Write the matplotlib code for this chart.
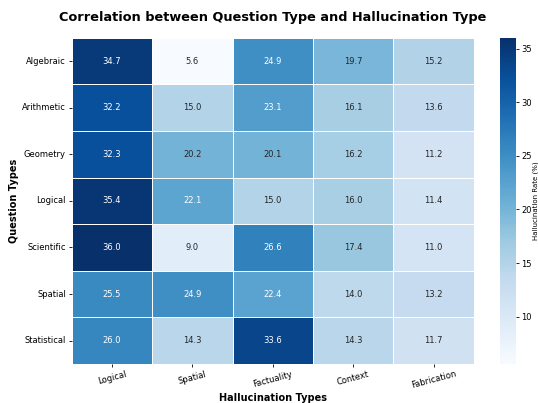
import numpy as np
import matplotlib
matplotlib.use("Agg")
import matplotlib.pyplot as plt
import seaborn as sns

# ── Data ──────────────────────────────────────────────────────────────────────
QUESTION_TYPES = ["Algebraic", "Arithmetic", "Geometry", "Logical",
                  "Scientific", "Spatial", "Statistical"]
HALLU_TYPES = ["Logical", "Spatial", "Factuality", "Context", "Fabrication"]
RATES = [
    [34.7, 5.6, 24.9, 19.7, 15.2],
    [32.2, 15.0, 23.1, 16.1, 13.6],
    [32.3, 20.2, 20.1, 16.2, 11.2],
    [35.4, 22.1, 15.0, 16.0, 11.4],
    [36.0, 9.0, 26.6, 17.4, 11.0],
    [25.5, 24.9, 22.4, 14.0, 13.2],
    [26.0, 14.3, 33.6, 14.3, 11.7],
]

# ── Plot ──────────────────────────────────────────────────────────────────────
fig = plt.figure(figsize=(5.38, 4.03), dpi=100)
ax = fig.add_axes([0.133, 0.097, 0.748, 0.809])
cax = fig.add_axes([0.929, 0.097, 0.030, 0.809])

sns.heatmap(np.array(RATES), ax=ax, cbar_ax=cax, cmap="Blues",
            annot=True, fmt=".1f", annot_kws={"fontsize": 6},
            linewidths=0.5, linecolor="white",
            xticklabels=HALLU_TYPES, yticklabels=QUESTION_TYPES)

ax.set_title("Correlation between Question Type and Hallucination Type",
             fontsize=9.3, fontweight="bold", pad=12)
ax.set_xlabel("Hallucination Types", fontsize=7, fontweight="bold", labelpad=2)
ax.set_ylabel("Question Types", fontsize=7, fontweight="bold", labelpad=2)
ax.tick_params(axis="both", labelsize=6, length=2, width=0.6, pad=2)
plt.setp(ax.get_xticklabels(), rotation=15)
plt.setp(ax.get_yticklabels(), rotation=0)

cax.tick_params(labelsize=6, length=2, width=0.6, pad=2)
cax.set_ylabel("Hallucination Rate (%)", fontsize=5)
cax.yaxis.set_label_coords(2.0, 0.5)
for s in cax.spines.values():
    s.set_visible(False)

fig.savefig("out.png", dpi=100)
